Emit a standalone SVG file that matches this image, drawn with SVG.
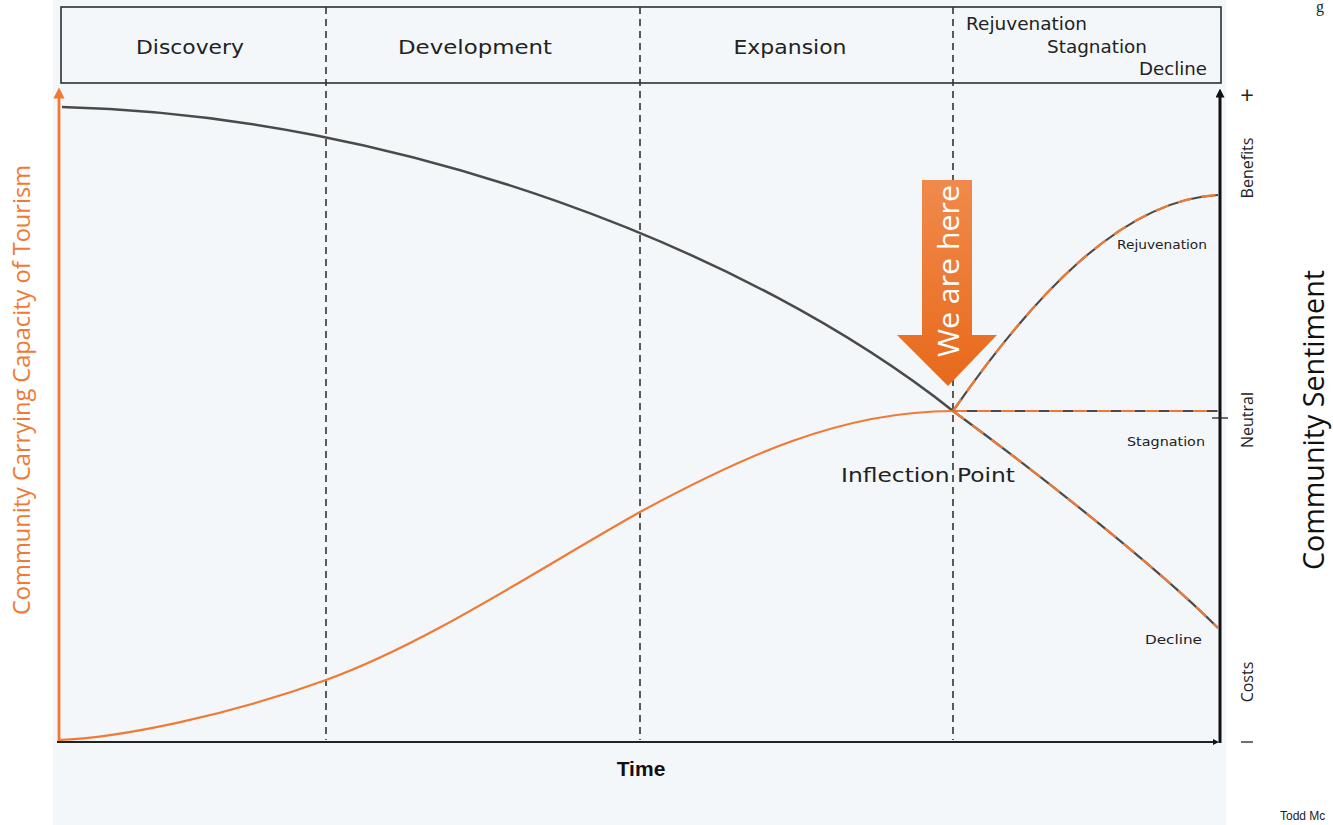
<svg xmlns="http://www.w3.org/2000/svg" width="1333" height="825" viewBox="0 0 1333 825">
<defs>
<style>
.hdr{font-family:"DejaVu Sans","Liberation Sans",sans-serif;font-size:20px;fill:#222;}
.hdr2{font-family:"DejaVu Sans","Liberation Sans",sans-serif;font-size:17px;fill:#222;}
.sm{font-family:"DejaVu Sans","Liberation Sans",sans-serif;font-size:13px;fill:#222;}
.ax{font-family:"Open Sans","Noto Sans",sans-serif;font-size:16px;fill:#222;}
.dash{stroke:#333;stroke-width:1.6;stroke-dasharray:7 5;fill:none;}
.branch{fill:none;stroke:#4a4a4a;stroke-width:2.2;}
.branchO{fill:none;stroke:#f07a35;stroke-width:2.2;stroke-dasharray:14 10;}
</style>
<linearGradient id="ag" x1="0" y1="0" x2="0" y2="1">
<stop offset="0" stop-color="#f08a4c"/>
<stop offset="1" stop-color="#e8691a"/>
</linearGradient>
<marker id="ahO" viewBox="0 0 10 10" refX="5" refY="5" markerWidth="4" markerHeight="4" orient="auto"><path d="M0,0 L10,5 L0,10 z" fill="#f07a35"/></marker>
<marker id="ahK" viewBox="0 0 10 10" refX="5" refY="5" markerWidth="3" markerHeight="3" orient="auto"><path d="M0,0 L10,5 L0,10 z" fill="#111"/></marker>
</defs>
<rect x="0" y="0" width="1333" height="825" fill="#ffffff"/>
<rect x="53" y="0" width="1173" height="825" fill="#f3f7f9"/>

<g id="header">
<rect x="61" y="7" width="1160" height="76" fill="#f3f7f9" stroke="#222" stroke-width="1.5"/>
<text class="hdr" x="190" y="54" text-anchor="middle" textLength="108" lengthAdjust="spacingAndGlyphs">Discovery</text>
<text class="hdr" x="475" y="54" text-anchor="middle" textLength="154" lengthAdjust="spacingAndGlyphs">Development</text>
<text class="hdr" x="790" y="54" text-anchor="middle" textLength="113" lengthAdjust="spacingAndGlyphs">Expansion</text>
<text class="hdr2" x="966" y="30" textLength="121" lengthAdjust="spacingAndGlyphs">Rejuvenation</text>
<text class="hdr2" x="1047" y="53" textLength="100" lengthAdjust="spacingAndGlyphs">Stagnation</text>
<text class="hdr2" x="1139" y="75" textLength="68" lengthAdjust="spacingAndGlyphs">Decline</text>
</g>

<g id="phase-dividers">
<line class="dash" x1="326" y1="7" x2="326" y2="740"/>
<line class="dash" x1="640" y1="7" x2="640" y2="740"/>
<line class="dash" x1="953" y1="7" x2="953" y2="740"/>
</g>

<g id="axes">
<line x1="59" y1="742" x2="59" y2="93" stroke="#f07a35" stroke-width="2.8" marker-end="url(#ahO)"/>
<line x1="57" y1="742" x2="1216" y2="742" stroke="#222" stroke-width="2" marker-end="url(#ahK)"/>
<line x1="1220" y1="743" x2="1220" y2="93" stroke="#111" stroke-width="3" marker-end="url(#ahK)"/>
<line x1="1212" y1="418" x2="1228" y2="418" stroke="#222" stroke-width="1.3"/>
</g>

<g id="connectors">
<path id="sentiment-curve" d="M62,107 C400,115 750,250 953,411" fill="none" stroke="#4a4a4a" stroke-width="2.5"/>
<path id="capacity-curve" d="M58,740 C120,738 230,715 326,680 C430,642 540,568 640,512 C740,458 840,411 953,411" fill="none" stroke="#f07a35" stroke-width="2.2"/>
<path class="branch" d="M953,411 C1030,300 1120,200 1218,195"/>
<path class="branchO" d="M953,411 C1030,300 1120,200 1218,195"/>
<path class="branch" d="M953,411 L1218,411"/>
<path class="branchO" d="M953,411 L1218,411"/>
<path class="branch" d="M953,411 C1020,460 1150,560 1218,628"/>
<path class="branchO" d="M953,411 C1020,460 1150,560 1218,628"/>
</g>

<g id="we-are-here">
<path d="M922,180 L972,180 L972,335 L997,335 L948,386 L897,335 L922,335 Z" fill="url(#ag)"/>
<text x="0" y="0" transform="translate(959,271) rotate(-90)" text-anchor="middle" font-family="Open Sans,Noto Sans,sans-serif" font-size="30" fill="#ffffff" textLength="172" lengthAdjust="spacingAndGlyphs">We are here</text>
</g>

<g id="inflection-label">
<text class="hdr" x="928" y="482" text-anchor="middle" textLength="174" lengthAdjust="spacingAndGlyphs">Inflection Point</text>
</g>

<g id="branch-labels">
<text class="sm" x="1117" y="249" textLength="90" lengthAdjust="spacingAndGlyphs">Rejuvenation</text>
<text class="sm" x="1127" y="446" textLength="78" lengthAdjust="spacingAndGlyphs">Stagnation</text>
<text class="sm" x="1145" y="644" textLength="57" lengthAdjust="spacingAndGlyphs">Decline</text>
</g>

<g id="right-axis-labels">
<text x="1247" y="104" text-anchor="middle" style="font-family:'Open Sans','Noto Sans',sans-serif;font-size:24px;fill:#222">+</text>
<text class="ax" transform="translate(1253,168) rotate(-90)" text-anchor="middle">Benefits</text>
<text class="ax" transform="translate(1253,420) rotate(-90)" text-anchor="middle">Neutral</text>
<text class="ax" transform="translate(1253,682) rotate(-90)" text-anchor="middle">Costs</text>
<line x1="1241" y1="742" x2="1253" y2="742" stroke="#222" stroke-width="1.3"/>
<text transform="translate(1324,420) rotate(-90)" text-anchor="middle" font-family="Open Sans,Noto Sans,sans-serif" font-size="30" fill="#111" textLength="300" lengthAdjust="spacingAndGlyphs">Community Sentiment</text>
</g>

<g id="left-axis-label">
<text transform="translate(30,390) rotate(-90)" text-anchor="middle" font-family="Open Sans,Noto Sans,sans-serif" font-size="23" fill="#f07a35" textLength="450" lengthAdjust="spacingAndGlyphs">Community Carrying Capacity of Tourism</text>
</g>

<g id="time-label">
<text x="641" y="776" text-anchor="middle" font-family="Liberation Sans,Arial,sans-serif" font-weight="bold" font-size="21" fill="#111">Time</text>
</g>

<g id="fragments">
<text x="1316" y="12" font-family="Liberation Serif,serif" font-size="16" fill="#222">g</text>
<text x="1280" y="820" font-family="Liberation Sans,Arial,sans-serif" font-size="12" fill="#222">Todd Mc</text>
</g>
</svg>
